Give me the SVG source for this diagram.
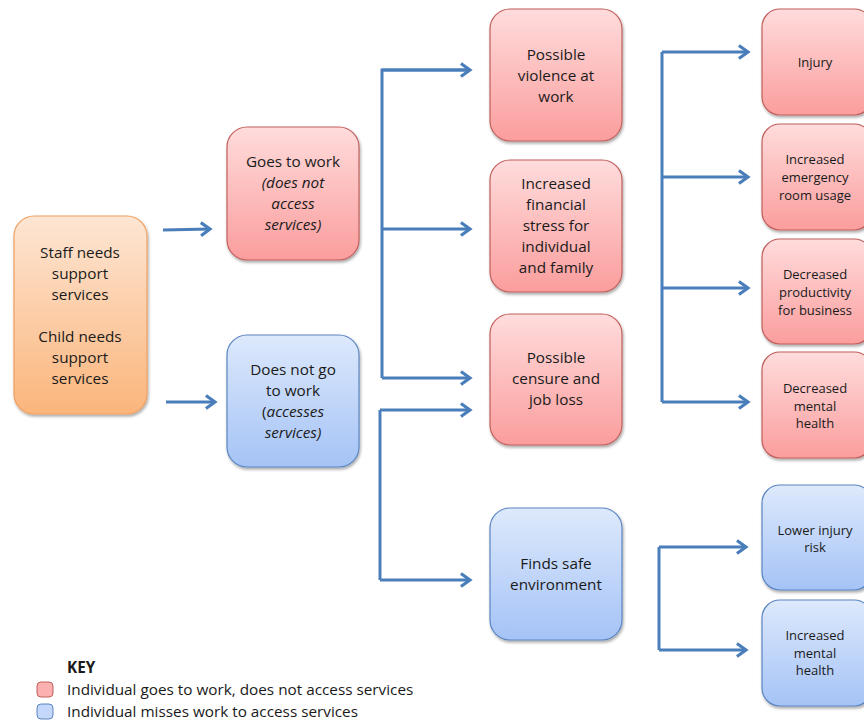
<svg xmlns="http://www.w3.org/2000/svg" width="864" height="721" viewBox="0 0 864 721">
<defs>
<linearGradient id="gPink" x1="0" y1="0" x2="0" y2="1"><stop offset="0" stop-color="#ffdcdc"/><stop offset="1" stop-color="#fb9d9d"/></linearGradient>
<linearGradient id="gBlue" x1="0" y1="0" x2="0" y2="1"><stop offset="0" stop-color="#dde9fc"/><stop offset="1" stop-color="#a5c3f6"/></linearGradient>
<linearGradient id="gOrange" x1="0" y1="0" x2="0" y2="1"><stop offset="0" stop-color="#fde6d4"/><stop offset="1" stop-color="#fbb57c"/></linearGradient>
<filter id="sh" x="-10%" y="-10%" width="130%" height="130%"><feGaussianBlur in="SourceAlpha" stdDeviation="1.5"/><feOffset dx="1" dy="2"/><feComponentTransfer><feFuncA type="linear" slope="0.35"/></feComponentTransfer><feMerge><feMergeNode/><feMergeNode in="SourceGraphic"/></feMerge></filter>
<marker id="arr" viewBox="0 0 10 10" refX="8" refY="5" markerWidth="5.5" markerHeight="5.5" orient="auto" markerUnits="strokeWidth"><path d="M2.5,1 L8,5 L2.5,9" fill="none" stroke="#4a7ebb" stroke-width="1.9"/></marker>
</defs>
<style>
.pink{fill:url(#gPink);stroke:#c0605d;stroke-width:1.2;filter:url(#sh)}
.blue{fill:url(#gBlue);stroke:#5b86c0;stroke-width:1.2;filter:url(#sh)}
.orange{fill:url(#gOrange);stroke:#f0a060;stroke-width:1.2;filter:url(#sh)}
text{font-family:"Open Sans","Noto Sans","Liberation Sans",sans-serif;fill:#1a1a1a;text-anchor:middle}
.t{font-size:15.3px}
.s{font-size:13px}
.i{font-style:italic}
.c{fill:none;stroke:#4a7ebb;stroke-width:3}
.a{marker-end:url(#arr)}
.k{font-size:15.3px;text-anchor:start}
</style>
<rect width="864" height="721" fill="#ffffff"/>

<g id="connectors">
<line class="c a" x1="163" y1="230" x2="210" y2="229"/>
<line class="c a" x1="166" y1="402" x2="215" y2="402"/>
<path class="c" d="M470,70 H382 V378"/>
<line class="c a" x1="382" y1="70" x2="470" y2="70"/>
<line class="c a" x1="382" y1="229" x2="470" y2="229"/>
<line class="c a" x1="382" y1="378" x2="470" y2="378"/>
<path class="c" d="M380,410 V580"/>
<line class="c a" x1="380" y1="410" x2="470" y2="410"/>
<line class="c a" x1="380" y1="580" x2="470" y2="580"/>
<path class="c" d="M662,52 V402"/>
<line class="c a" x1="662" y1="52" x2="748" y2="52"/>
<line class="c a" x1="662" y1="177" x2="748" y2="177"/>
<line class="c a" x1="662" y1="288" x2="748" y2="288"/>
<line class="c a" x1="662" y1="402" x2="748" y2="402"/>
<path class="c" d="M659,547 V650"/>
<line class="c a" x1="659" y1="547" x2="746" y2="547"/>
<line class="c a" x1="659" y1="650" x2="746" y2="650"/>
</g>

<g id="staff">
<rect class="orange" x="14" y="216" width="133" height="198" rx="20"/>
<text class="t" x="80" y="258">Staff needs</text>
<text class="t" x="80" y="279">support</text>
<text class="t" x="80" y="300">services</text>
<text class="t" x="80" y="342">Child needs</text>
<text class="t" x="80" y="363">support</text>
<text class="t" x="80" y="384">services</text>
</g>

<g id="goes">
<rect class="pink" x="227" y="127" width="132" height="133" rx="20"/>
<text class="t" x="293" y="167">Goes to work</text>
<text class="t i" x="293" y="188">(does not</text>
<text class="t i" x="293" y="209">access</text>
<text class="t i" x="293" y="230">services)</text>
</g>

<g id="notgo">
<rect class="blue" x="227" y="335" width="132" height="132" rx="20"/>
<text class="t" x="293" y="375">Does not go</text>
<text class="t" x="293" y="396">to work</text>
<text class="t" x="293" y="417">(<tspan class="i">accesses</tspan></text>
<text class="t i" x="293" y="438">services)</text>
</g>

<g id="violence">
<rect class="pink" x="490" y="9" width="132" height="132" rx="20"/>
<text class="t" x="556" y="60">Possible</text>
<text class="t" x="556" y="81">violence at</text>
<text class="t" x="556" y="102">work</text>
</g>

<g id="financial">
<rect class="pink" x="490" y="160" width="132" height="132" rx="20"/>
<text class="t" x="556" y="189">Increased</text>
<text class="t" x="556" y="210">financial</text>
<text class="t" x="556" y="231">stress for</text>
<text class="t" x="556" y="252">individual</text>
<text class="t" x="556" y="273">and family</text>
</g>

<g id="censure">
<rect class="pink" x="490" y="314" width="132" height="131" rx="20"/>
<text class="t" x="556" y="363">Possible</text>
<text class="t" x="556" y="384">censure and</text>
<text class="t" x="556" y="405">job loss</text>
</g>

<g id="safe">
<rect class="blue" x="490" y="508" width="132" height="132" rx="20"/>
<text class="t" x="556" y="569">Finds safe</text>
<text class="t" x="556" y="590">environment</text>
</g>

<g id="injury">
<rect class="pink" x="762" y="9" width="110" height="106" rx="18"/>
<text class="s" x="815" y="67">Injury</text>
</g>

<g id="emergency">
<rect class="pink" x="762" y="124" width="110" height="106" rx="18"/>
<text class="s" x="815" y="164">Increased</text>
<text class="s" x="815" y="182">emergency</text>
<text class="s" x="815" y="200">room usage</text>
</g>

<g id="productivity">
<rect class="pink" x="762" y="239" width="110" height="105" rx="18"/>
<text class="s" x="815" y="279">Decreased</text>
<text class="s" x="815" y="297">productivity</text>
<text class="s" x="815" y="315">for business</text>
</g>

<g id="decmental">
<rect class="pink" x="762" y="352" width="110" height="106" rx="18"/>
<text class="s" x="815" y="393">Decreased</text>
<text class="s" x="815" y="411">mental</text>
<text class="s" x="815" y="428">health</text>
</g>

<g id="lowerinjury">
<rect class="blue" x="762" y="485" width="110" height="105" rx="18"/>
<text class="s" x="815" y="535">Lower injury</text>
<text class="s" x="815" y="552">risk</text>
</g>

<g id="incmental">
<rect class="blue" x="762" y="600" width="110" height="106" rx="18"/>
<text class="s" x="815" y="640">Increased</text>
<text class="s" x="815" y="658">mental</text>
<text class="s" x="815" y="675">health</text>
</g>

<g id="key">
<text class="k" x="67" y="673" font-weight="bold">KEY</text>
<rect x="37" y="682" width="16" height="15" rx="4" fill="#fcb0b0" stroke="#c0605d" stroke-width="1"/>
<rect x="37" y="704" width="16" height="15" rx="4" fill="#c3d8fa" stroke="#5b86c0" stroke-width="1"/>
<text class="k" x="67" y="695">Individual goes to work, does not access services</text>
<text class="k" x="67" y="717">Individual misses work to access services</text>
</g>
</svg>
